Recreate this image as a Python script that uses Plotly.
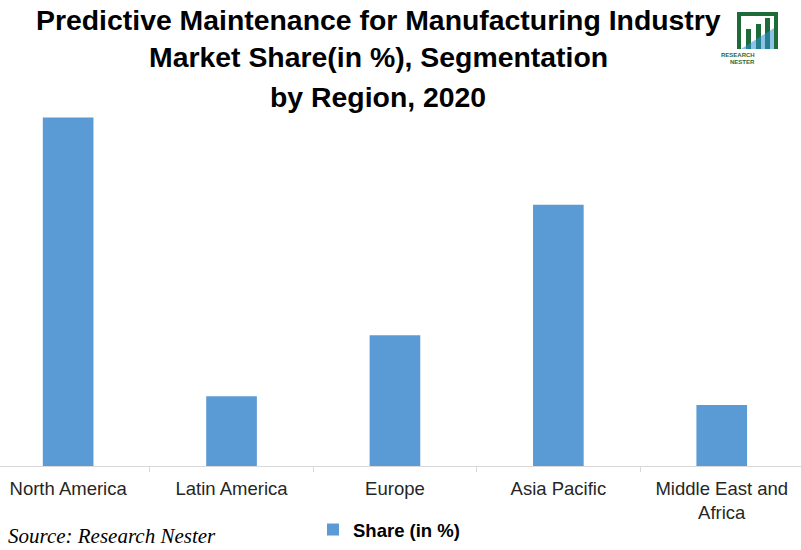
import plotly.graph_objects as go

regions = ["North America", "Latin America", "Europe", "Asia Pacific", "Middle East and Africa"]
tick_labels = ["North America", "Latin America", "Europe", "Asia Pacific", "Middle East and<br>Africa"]
share = [40, 8, 15, 30, 7]

W, H = 801, 550
pl, pr, pt, pb = 0, 0, 74, 84
pw, ph = W - pl - pr, H - pt - pb

def px(x): return (x - pl) / pw
def py(y): return (H - pb - y) / ph

fig = go.Figure()
fig.add_trace(go.Bar(
    x=regions, y=share, name="<b>Share (in %)</b>",
    marker=dict(color="#5B9BD5", line=dict(width=0)),
    width=0.31,
))

fig.update_layout(
    width=W, height=H,
    margin=dict(l=pl, r=pr, t=pt, b=pb, autoexpand=False),
    paper_bgcolor="white", plot_bgcolor="white",
    showlegend=True,
    legend=dict(orientation="h", x=px(313), y=py(530), xanchor="left", yanchor="middle",
                font=dict(family="Liberation Sans, Arial", size=18.5, color="#000000"),
                itemwidth=30, bgcolor="rgba(0,0,0,0)"),
    xaxis=dict(
        type="category", range=[-0.417, 4.485], automargin=False,
        tickmode="array", tickvals=regions, ticktext=tick_labels,
        tickson="boundaries", ticks="outside", ticklen=5, tickcolor="#D9D9D9",
        ticklabelstandoff=6,
        showline=True, linecolor="#D9D9D9", linewidth=1,
        showgrid=False,
        tickfont=dict(family="Liberation Sans, Arial", size=18.5, color="#262626"),
    ),
    yaxis=dict(range=[0, 45], visible=False, showgrid=False, automargin=False),
)

title_font = dict(family="Liberation Sans, Arial", size=28.4, color="#000000")
anns = [
    ("<b>Predictive Maintenance for Manufacturing Industry</b>", 378, 20, title_font, "center"),
    ("<b>Market Share(in %), Segmentation</b>", 378, 57, title_font, "center"),
    ("<b>by Region, 2020</b>", 378, 97, title_font, "center"),
    ("<i>Source: Research Nester</i>", 6, 536,
     dict(family="Liberation Serif, Georgia, serif", size=21, color="#000000"), "left"),
]
for text, x, y, font, xa in anns:
    fig.add_annotation(text=text, x=px(x), y=py(y), xref="paper", yref="paper",
                       xanchor=xa, yanchor="middle", showarrow=False, font=font)

# logo (decoration)
green = "#1E6B3A"
blue = "#2E8FD6"
shapes = [
    dict(type="path", path=f"M {px(737)} {py(49)} L {px(737)} {py(12)} L {px(778)} {py(12)} L {px(778)} {py(49)} L {px(774)} {py(49)} L {px(774)} {py(16)} L {px(741)} {py(16)} L {px(741)} {py(49)} Z",
         xref="paper", yref="paper", fillcolor=green, line=dict(width=0)),
    dict(type="rect", x0=px(746), x1=px(751), y0=py(49), y1=py(29), xref="paper", yref="paper", fillcolor=green, line=dict(width=0)),
    dict(type="rect", x0=px(756), x1=px(761), y0=py(49), y1=py(24), xref="paper", yref="paper", fillcolor=green, line=dict(width=0)),
    dict(type="rect", x0=px(765), x1=px(770), y0=py(49), y1=py(18), xref="paper", yref="paper", fillcolor=green, line=dict(width=0)),
    dict(type="path", path=f"M {px(741)} {py(49)} L {px(774)} {py(28)} L {px(774)} {py(49)} Z",
         xref="paper", yref="paper", fillcolor=blue, opacity=0.55, line=dict(width=0)),
]
fig.update_layout(shapes=shapes)
fig.add_annotation(text="<b>RESEARCH</b>", x=px(757), y=py(55), xref="paper", yref="paper", showarrow=False,
                   yanchor="middle", font=dict(family="Liberation Sans, Arial", size=6, color=green))
fig.add_annotation(text="<b>NESTER</b>", x=px(757), y=py(62), xref="paper", yref="paper", showarrow=False,
                   yanchor="middle", font=dict(family="Liberation Sans, Arial", size=6, color=green))

fig.write_html("out.html", config={"displayModeBar": False},
               post_script="document.body.style.margin='0';document.body.style.overflow='hidden';")
